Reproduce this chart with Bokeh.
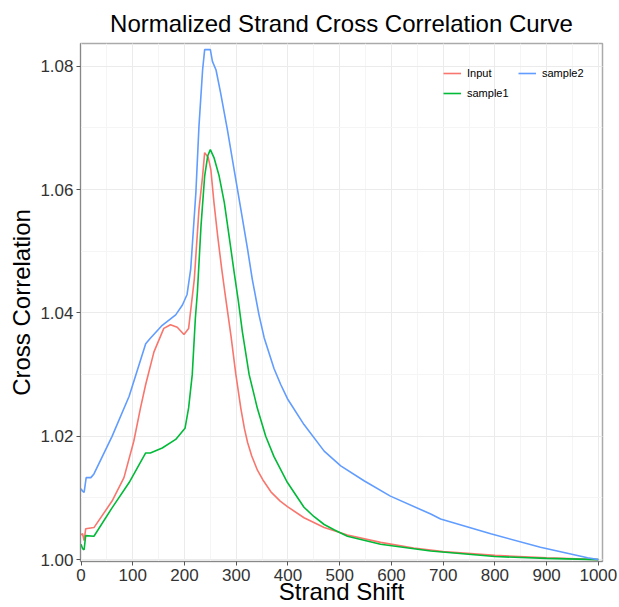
from bokeh.plotting import figure
from bokeh.models import (Range1d, SingleIntervalTicker, NumeralTickFormatter,
                          Legend, LegendItem)
from bokeh.embed import file_html
from bokeh.resources import INLINE

# Input
input_shift = [0, 3, 6, 9, 25, 60, 83, 102, 115, 125, 141, 160, 173, 186, 199, 208, 219,
               228, 235, 239, 246, 251, 257, 264, 272, 278, 290, 299, 309, 316, 322, 330,
               341, 351, 367, 385, 399, 431, 470, 515, 579, 643, 700, 800, 900, 1000]
input_cc = [1.0040, 1.0042, 1.0031, 1.0050, 1.0052, 1.0095, 1.0133, 1.0192, 1.0246, 1.0284,
            1.0337, 1.0375, 1.0381, 1.0377, 1.0365, 1.0375, 1.0455, 1.0568, 1.0622, 1.0660,
            1.0652, 1.0632, 1.0579, 1.0526, 1.0471, 1.0434, 1.0362, 1.0302, 1.0245, 1.0212,
            1.0190, 1.0168, 1.0145, 1.0130, 1.0110, 1.0095, 1.0086, 1.0068, 1.0052, 1.0040,
            1.0028, 1.0019, 1.0013, 1.0007, 1.0003, 1.0000]

# sample1
sample1_shift = [0, 3, 6, 9, 25, 60, 93, 125, 134, 157, 183, 201, 208, 215, 221, 225, 232,
                 239, 245, 250, 257, 267, 277, 286, 296, 304, 312, 325, 341, 357, 373, 399,
                 431, 450, 470, 490, 515, 579, 676, 800, 900, 1000]
sample1_cc = [1.0025, 1.0018, 1.0016, 1.0039, 1.0038, 1.0084, 1.0125, 1.0173, 1.0173, 1.0181,
              1.0195, 1.0213, 1.0246, 1.0300, 1.0391, 1.0434, 1.0542, 1.0622, 1.0655, 1.0665,
              1.0652, 1.0622, 1.0579, 1.0526, 1.0466, 1.0420, 1.0369, 1.0300, 1.0245, 1.0200,
              1.0167, 1.0125, 1.0085, 1.0070, 1.0057, 1.0048, 1.0038, 1.0025, 1.0014, 1.0005,
              1.0002, 1.0000]

# sample2
sample2_shift = [0, 3, 6, 10, 19, 25, 60, 93, 125, 134, 157, 183, 196, 205, 212, 222, 228,
                 235, 239, 250, 254, 261, 270, 283, 296, 309, 322, 331, 344, 354, 373, 386,
                 399, 431, 470, 502, 547, 598, 676, 695, 792, 888, 979, 1000]
sample2_cc = [1.0115, 1.0111, 1.0109, 1.0133, 1.0133, 1.0139, 1.0200, 1.0265, 1.0350, 1.0359,
              1.0380, 1.0397, 1.0413, 1.0430, 1.0471, 1.0595, 1.0703, 1.0794, 1.0827, 1.0827,
              1.0808, 1.0794, 1.0756, 1.0697, 1.0632, 1.0568, 1.0503, 1.0455, 1.0397, 1.0360,
              1.0310, 1.0284, 1.0261, 1.0219, 1.0176, 1.0152, 1.0128, 1.0103, 1.0074, 1.0066,
              1.0042, 1.0020, 1.0003, 1.0000]

series_names = ["Input", "sample1", "sample2"]
colors = ["#F8766D", "#00BA38", "#619CFF"]

FONT = "Liberation Sans"

p = figure(width=619, height=607, output_backend="svg", toolbar_location=None,
           x_range=Range1d(-1, 1008), y_range=Range1d(0.9997, 1.0837),
           min_border_left=80, min_border_right=17, min_border_top=40, min_border_bottom=46,
           title="Normalized Strand Cross Correlation Curve")

p.title.text_font = FONT
p.title.text_font_size = "24px"
p.title.text_font_style = "normal"
p.title.text_color = "#000000"
p.title.align = "center"
p.title.standoff = 14

r_in = p.line(input_shift, input_cc, line_color=colors[0], line_width=1.6)
r_s1 = p.line(sample1_shift, sample1_cc, line_color=colors[1], line_width=1.6)
r_s2 = p.line(sample2_shift, sample2_cc, line_color=colors[2], line_width=1.6)

p.xaxis.ticker = SingleIntervalTicker(interval=100, num_minor_ticks=2)
p.yaxis.ticker = SingleIntervalTicker(interval=0.02, num_minor_ticks=2)
p.yaxis.formatter = NumeralTickFormatter(format="0.00")

for ax in (p.xaxis[0], p.yaxis[0]):
    ax.major_label_text_font = FONT
    ax.major_label_text_font_size = "17px"
    ax.major_label_text_color = "#333333"
    ax.axis_label_text_font = FONT
    ax.axis_label_text_font_size = "24px"
    ax.axis_label_text_font_style = "normal"
    ax.axis_label_text_color = "#000000"
    ax.axis_line_color = "#888888"
    ax.major_tick_line_color = "#555555"
    ax.major_tick_in = 0
    ax.major_tick_out = 4
    ax.minor_tick_line_color = None
    ax.major_label_standoff = 3

p.xaxis.axis_label_standoff = -6
p.yaxis.axis_label_standoff = 2

p.xaxis.axis_label = "Strand Shift"
p.yaxis.axis_label = "Cross Correlation"

p.xgrid.grid_line_color = "#ebebeb"
p.ygrid.grid_line_color = "#ebebeb"
p.xgrid.minor_grid_line_color = "#f5f5f5"
p.ygrid.minor_grid_line_color = "#f5f5f5"

p.outline_line_color = "#aaaaaa"
p.outline_line_width = 1.5
p.background_fill_color = "white"
p.border_fill_color = "white"

def make_legend(items, loc):
    lg = Legend(items=items, location=loc, orientation="vertical")
    lg.label_text_font = FONT
    lg.label_text_font_size = "11px"
    lg.label_text_color = "#000000"
    lg.glyph_width = 18
    lg.glyph_height = 14
    lg.label_height = 14
    lg.label_standoff = 6
    lg.spacing = 6
    lg.padding = 0
    lg.margin = 0
    lg.border_line_color = None
    lg.background_fill_alpha = 0
    return lg

leg1 = make_legend([LegendItem(label=series_names[0], renderers=[r_in]),
                    LegendItem(label=series_names[1], renderers=[r_s1])], (363, 461))
leg2 = make_legend([LegendItem(label=series_names[2], renderers=[r_s2])], (438, 481))
p.add_layout(leg1, "center")
p.add_layout(leg2, "center")

open("out.html", "w").write(file_html(p, INLINE))
